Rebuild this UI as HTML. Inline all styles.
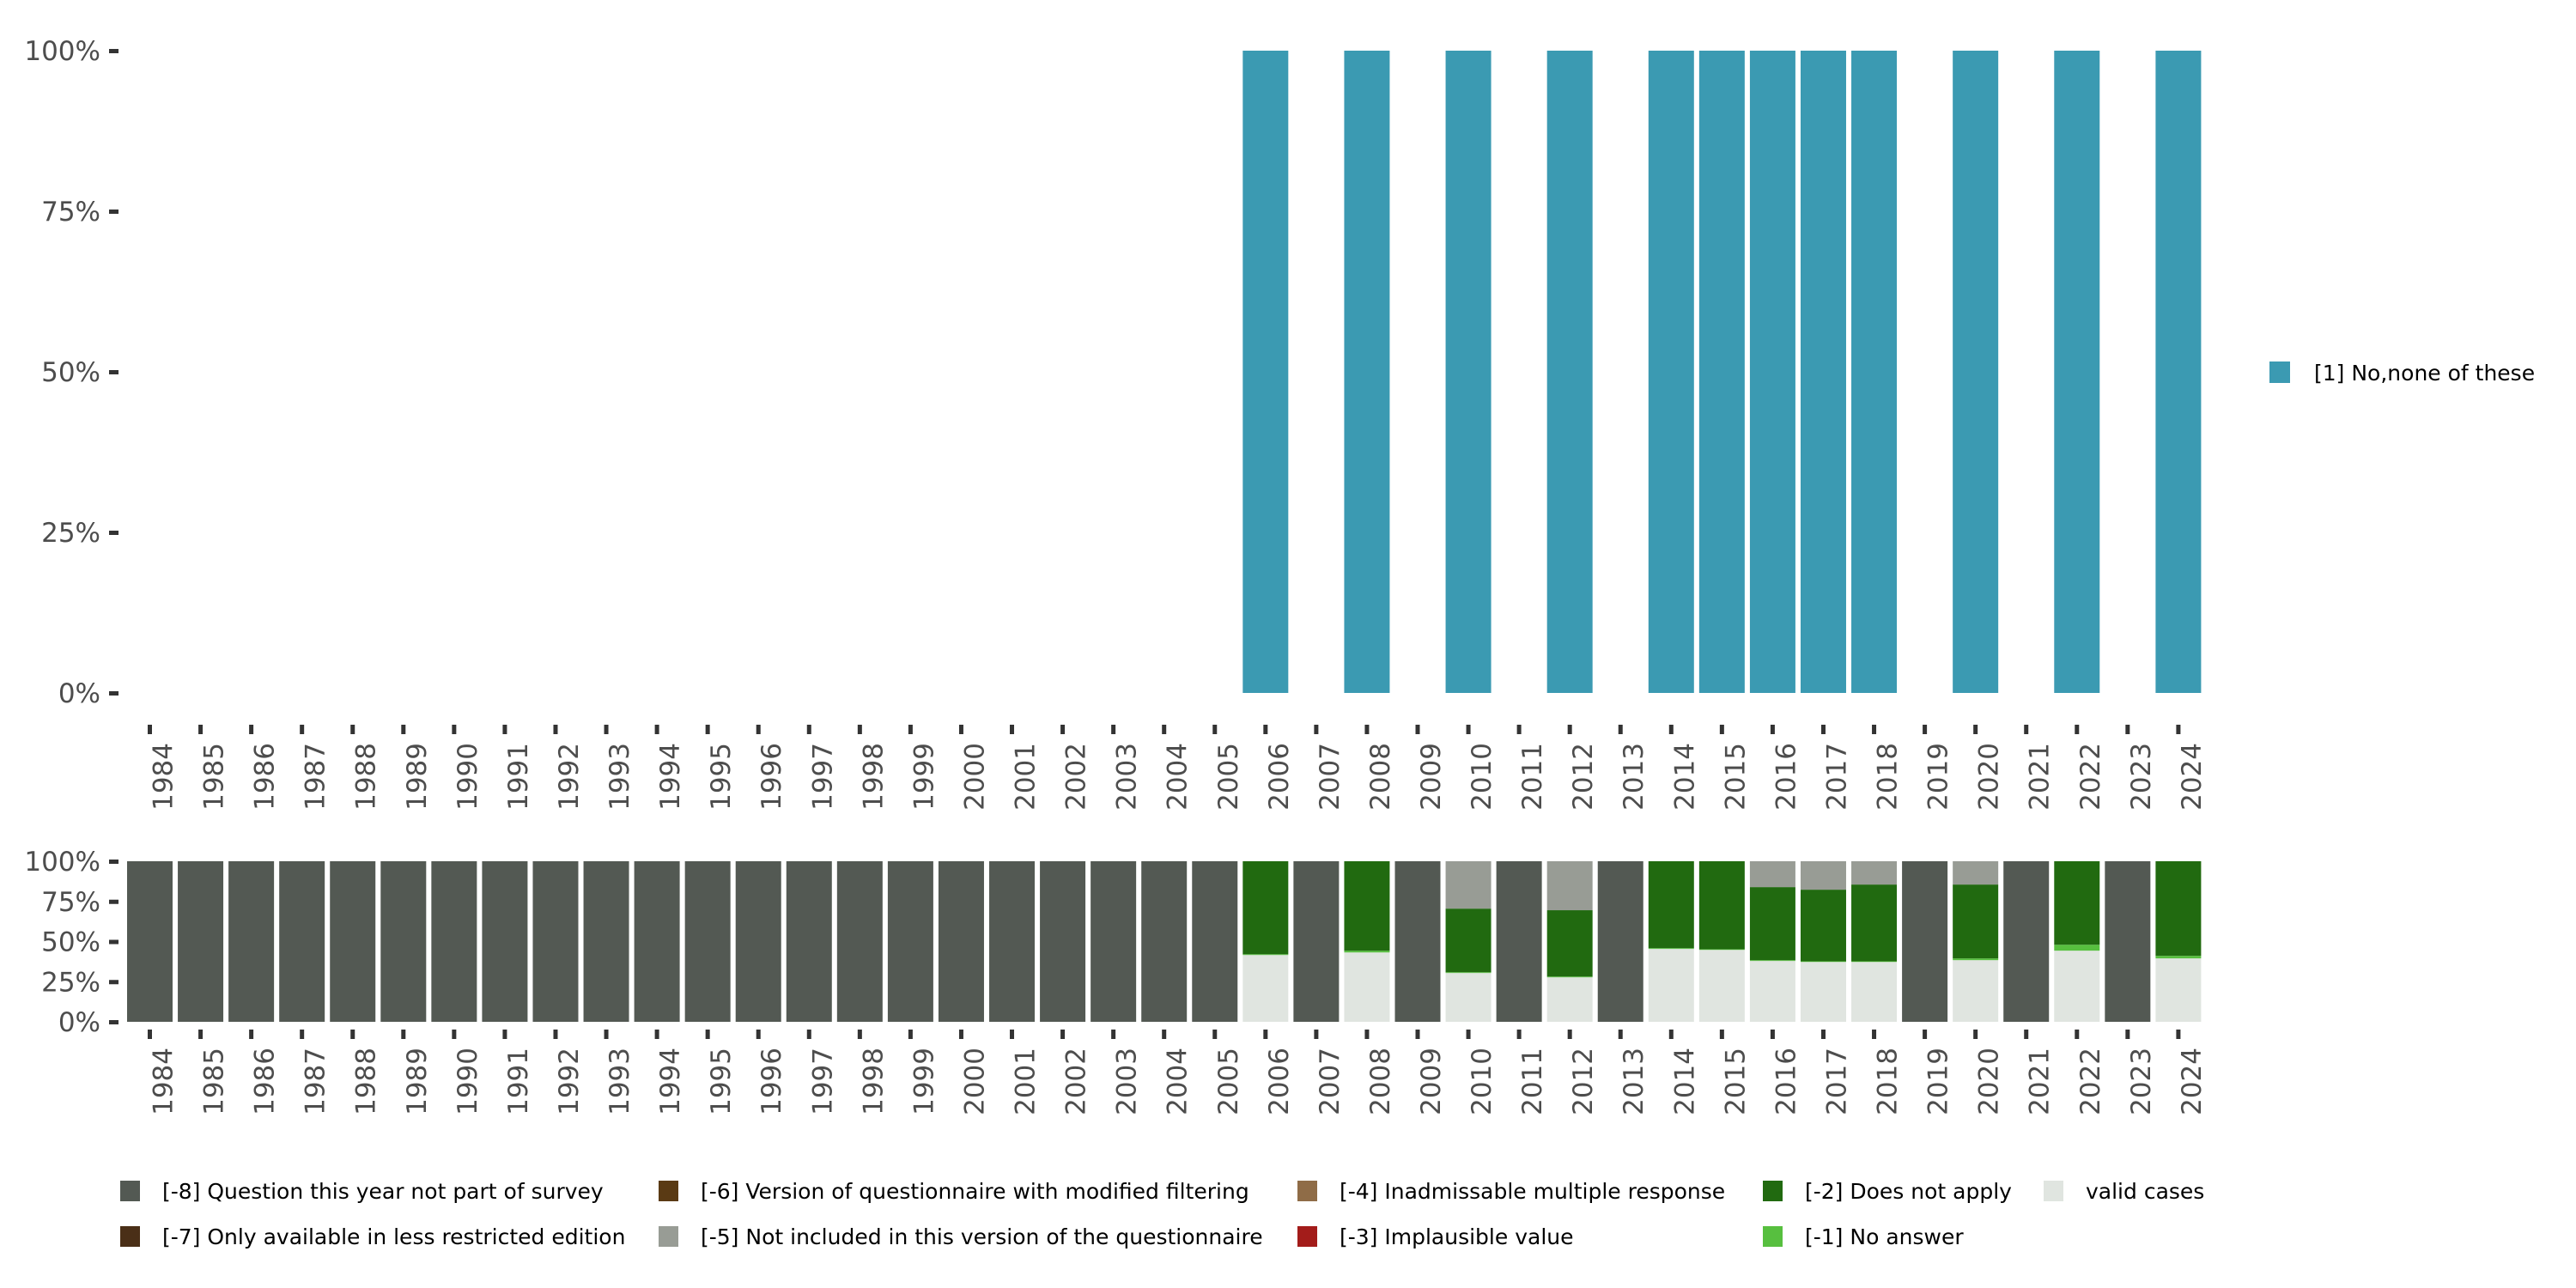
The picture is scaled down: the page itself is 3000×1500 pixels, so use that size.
<!DOCTYPE html>
<html><head><meta charset="utf-8"><style>
html,body{margin:0;padding:0;background:#fff;}
svg{display:block;font-family:"DejaVu Sans","Liberation Sans",sans-serif;}
</style></head><body>
<svg id="chart" width="3000" height="1500" viewBox="0 0 3000 1500" xmlns="http://www.w3.org/2000/svg">
<g id="top"></g>
<g id="bot"></g>
<g id="leg"></g>
</svg>
<script>
const years = [];
for (let y = 1984; y <= 2024; y++) years.push(y);
const topYears = [2006,2008,2010,2012,2014,2015,2016,2017,2018,2020,2022,2024];
const topValues = [1,1,1,1,1,1,1,1,1,1,1,1];
const yTicks = [0,0.25,0.5,0.75,1];
const yTickLabels = ["0%","25%","50%","75%","100%"];
// bottom panel shares for surveyed years
const botYears   = [2006,2008,2010,2012,2014,2015,2016,2017,2018,2020,2022,2024];
const validVals  = [0.416,0.432,0.304,0.277,0.454,0.448,0.379,0.373,0.373,0.384,0.443,0.395];
const noAnsVals  = [0.005,0.011,0.005,0.005,0.005,0.004,0.005,0.004,0.004,0.011,0.037,0.016];
const notPartVals= [0,0,0.295,0.305,0,0,0.161,0.177,0.145,0.145,0,0];
const legendLabels = ["[-8] Question this year not part of survey","[-7] Only available in less restricted edition","[-6] Version of questionnaire with modified filtering","[-5] Not included in this version of the questionnaire","[-4] Inadmissable multiple response","[-3] Implausible value","[-2] Does not apply","[-1] No answer","valid cases"];
const legendColors = ["#535953","#4a2f17","#5a3a14","#989c95","#8f6c47","#a31c1a","#216a10","#57bf3f","#e0e5e0"];

const NS="http://www.w3.org/2000/svg";
function el(tag, attrs, parent, txt){const e=document.createElementNS(NS,tag);for(const k in attrs)e.setAttribute(k,attrs[k]);if(txt!==undefined)e.textContent=txt;parent.appendChild(e);return e;}
const xOf = y => 174.5 + (y-1984)*59.06;
const BW = 53;
const topY = v => 807 - v*(807-59);
const botY = v => 1190 - v*(1190-1003);
const topG=document.getElementById('top'), botG=document.getElementById('bot'), legG=document.getElementById('leg');

function axes(g, yf, tickY0, labY0, name){
  yTicks.forEach((t,i)=>{
    const tk=el('rect',{x:127,y:yf(t)-2,width:11,height:5,fill:'#333'},g);
    
    
    const lb=el('text',{x:117,y:yf(t)+11,'font-size':31,fill:'#4d4d4d','text-anchor':'end'},g,yTickLabels[i]);
    
    
  });
  years.forEach(y=>{
    const x=xOf(y);
    const tk=el('rect',{x:x-2.5,y:tickY0,width:5,height:11,fill:'#333'},g);
    
    
    const lb=el('text',{x:0,y:0,'font-size':31,fill:'#4d4d4d','text-anchor':'end',transform:`translate(${x+26},${labY0}) rotate(-90)`},g,String(y));
    
    
  });
}
axes(topG, topY, 844, 865, 'top');
axes(botG, botY, 1199, 1220, 'bottom');

topYears.forEach((y,i)=>{
  const r=el('rect',{x:xOf(y)-BW/2,y:topY(topValues[i]),width:BW,height:topY(0)-topY(topValues[i]),fill:'#3b9ab2'},topG);
  
  
});

years.forEach(y=>{
  const i=botYears.indexOf(y);
  let segs;
  if(i<0) segs=[[1,'#535953','not-surveyed']];
  else {
    const v=validVals[i], n=noAnsVals[i], p=notPartVals[i];
    segs=[[v,'#e0e5e0','valid'],[n,'#57bf3f','no-answer'],[1-v-n-p,'#216a10','does-not-apply'],[p,'#989c95','not-included']];
  }
  let c=0;
  segs.forEach(s=>{
    if(s[0]<=0){return;}
    const r=el('rect',{x:xOf(y)-BW/2,y:botY(c+s[0]),width:BW,height:botY(c)-botY(c+s[0]),fill:s[1]},botG);
    
    
    c+=s[0];
  });
});

// right legend
const lk=el('rect',{x:2643,y:421,width:24,height:25,fill:'#3b9ab2'},legG);


const lt=el('text',{x:2695,y:443,'font-size':25,fill:'#000'},legG,'[1] No,none of these');



// bottom legend (column-major, 2 rows)
const colX=[140,767,1511,2053,2380];
legendLabels.forEach((lab,i)=>{
  const col=Math.floor(i/2), row=i%2;
  const x=colX[col], y=row?1440:1387;
  const k=el('rect',{x:x,y:y-12,width:23,height:24,fill:legendColors[i]},legG);
  
  
  const t=el('text',{x:x+49,y:y+9,'font-size':25,fill:'#000'},legG,lab);
  
  
});
</script>
</body></html>
